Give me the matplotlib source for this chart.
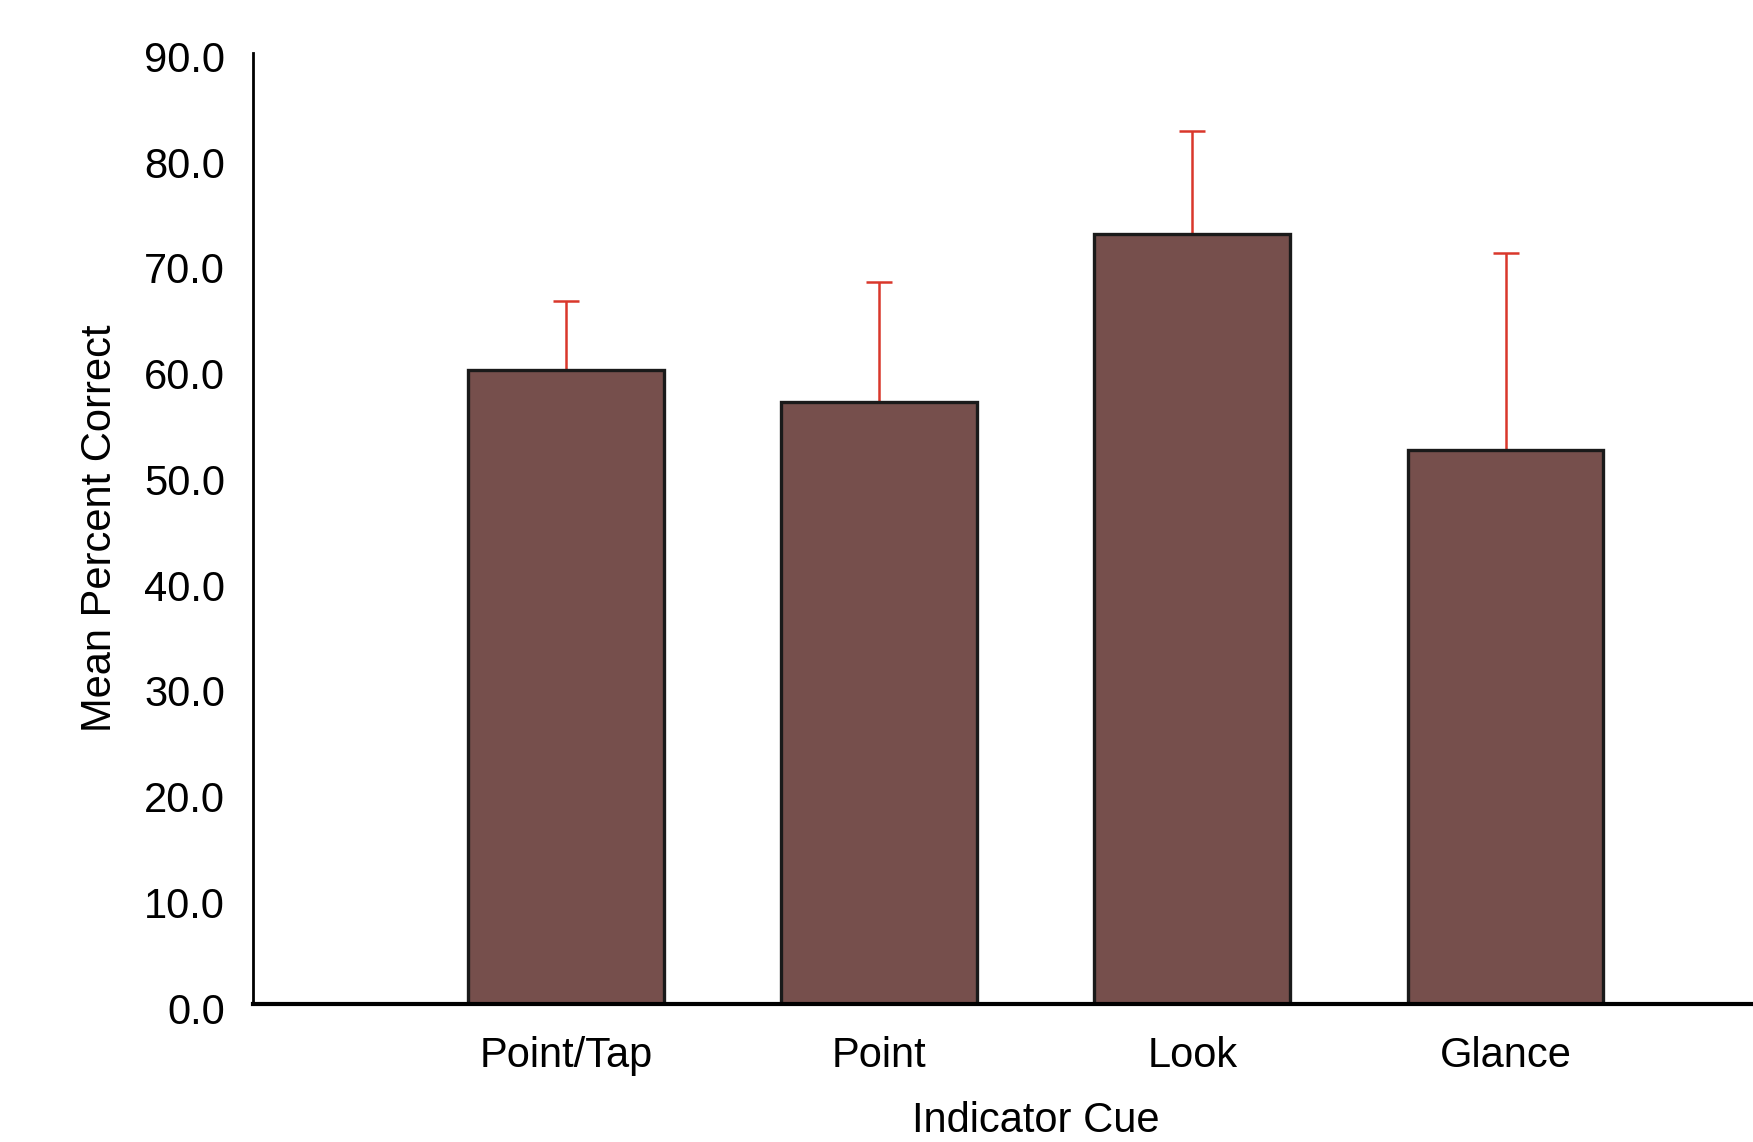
import matplotlib
matplotlib.use('Agg')
import matplotlib.pyplot as plt
import matplotlib.transforms as mtransforms

plt.rcParams['font.family'] = ['Liberation Sans', 'DejaVu Sans']

# data
cues = ['Point/Tap', 'Point', 'Look', 'Glance']
mean_correct = [60.0, 56.9, 72.8, 52.4]
upper_err = [6.5, 11.4, 9.8, 18.6]
y_ticks = [0, 10, 20, 30, 40, 50, 60, 70, 80, 90]

fig = plt.figure(figsize=(17.53, 11.42), dpi=100)
ax = fig.add_axes([0.1441, 0.1208, 0.8559, 0.8332])

x = range(len(cues))
ax.bar(x, mean_correct, width=0.625, color='#764f4c', edgecolor='#1a1a1a',
       linewidth=2.4, zorder=2)
ax.errorbar(x, mean_correct, yerr=[[0] * len(cues), upper_err], fmt='none',
            ecolor='#d9372b', elinewidth=1.8, capsize=9.7, capthick=1.8, zorder=1)

ax.set_xlim(-1.0, 3.79)
ax.set_ylim(0, 90)
ax.set_yticks(y_ticks)
ax.set_yticklabels([f'{t:.1f}' for t in y_ticks])
ax.set_xticks(list(x))
ax.set_xticklabels(cues)
ax.tick_params(axis='both', length=0, labelsize=30)
ax.tick_params(axis='y', pad=20)
ax.tick_params(axis='x', pad=23)

# y labels sit a little below their values in the original
shift = mtransforms.ScaledTranslation(0, -4 / 100, fig.dpi_scale_trans)
for lbl in ax.get_yticklabels():
    lbl.set_transform(lbl.get_transform() + shift)

for s in ['top', 'right']:
    ax.spines[s].set_visible(False)
ax.spines['left'].set_linewidth(2)
ax.spines['bottom'].set_linewidth(3)

ax.set_xlabel('Indicator Cue', fontsize=30)
ax.set_ylabel('Mean Percent Correct', fontsize=30)
ax.xaxis.set_label_coords(0.522, -0.123)
ax.xaxis.label.set_va('center')
ax.yaxis.set_label_coords(-0.1018, 0.5)
ax.yaxis.label.set_va('center')

fig.savefig('out.png', dpi=100)
